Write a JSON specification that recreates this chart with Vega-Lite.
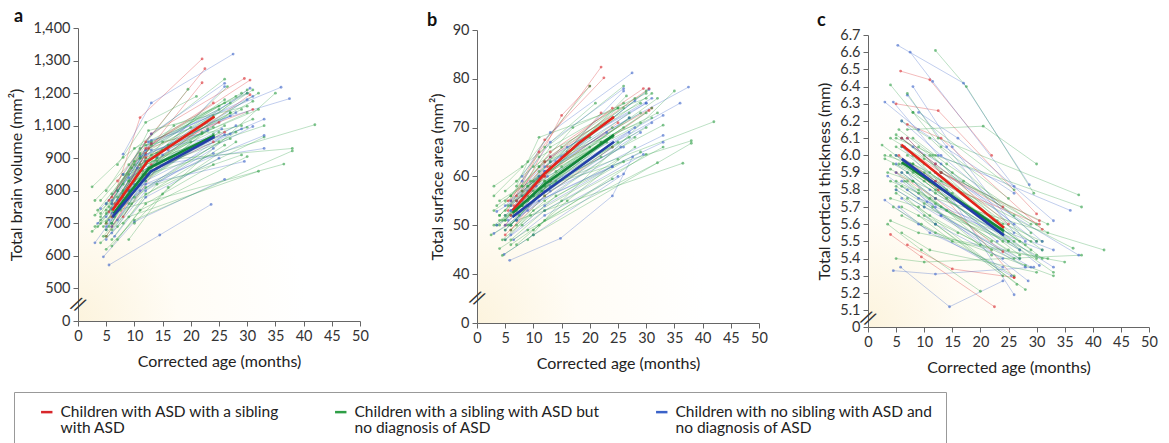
{
"$schema": "https://vega.github.io/schema/vega-lite/v6.json",
"background": "white",
"padding": {"left": 8, "top": 8, "right": 5, "bottom": 0},
"bounds": "flush",
"spacing": 117,
"config": {
  "view": {"stroke": null, "fill": {"gradient": "radial", "x1": 0, "y1": 1, "r1": 0, "x2": 0, "y2": 1, "r2": 0.8, "stops": [{"offset": 0, "color": "#fcf3dc"}, {"offset": 0.45, "color": "#fffcf5"}, {"offset": 1, "color": "#ffffff"}]}},
  "axis": {"labelFont": "Lato", "titleFont": "Lato", "labelFontSize": 14.5, "titleFontSize": 16, "titleFontWeight": "normal", "labelColor": "#333333", "titleColor": "#222222", "domainColor": "#666666", "tickColor": "#666666", "grid": false, "tickSize": 5, "labelPadding": 3, "labelOverlap": false, "labelFlush": false, "labelSeparation": 0},
  "title": {"font": "Lato", "fontSize": 18, "fontWeight": "bold", "anchor": "start", "frame": "group", "color": "#111111"}
},
"resolve": {"scale": {"color": "shared"}},
"datasets": {
"t": [
{"p":"a","id":"R1","g":"R","x":5.5,"y":735},{"p":"a","id":"R1","g":"R","x":11,"y":1125},{"p":"a","id":"R1","g":"R","x":22,"y":1305},
{"p":"a","id":"R2","g":"R","x":6,"y":780},{"p":"a","id":"R2","g":"R","x":12,"y":1000},{"p":"a","id":"R2","g":"R","x":22.5,"y":1275},
{"p":"a","id":"R3","g":"R","x":5,"y":700},{"p":"a","id":"R3","g":"R","x":12,"y":930},{"p":"a","id":"R3","g":"R","x":22,"y":1232},
{"p":"a","id":"R4","g":"R","x":7,"y":830},{"p":"a","id":"R4","g":"R","x":13,"y":1050},{"p":"a","id":"R4","g":"R","x":29.5,"y":1245},
{"p":"a","id":"R5","g":"R","x":6,"y":690},{"p":"a","id":"R5","g":"R","x":13,"y":880},{"p":"a","id":"R5","g":"R","x":30.5,"y":1195},
{"p":"a","id":"R6","g":"R","x":6.5,"y":760},{"p":"a","id":"R6","g":"R","x":12.5,"y":960},{"p":"a","id":"R6","g":"R","x":31,"y":1150},
{"p":"a","id":"R7","g":"R","x":5,"y":660},{"p":"a","id":"R7","g":"R","x":12,"y":850},{"p":"a","id":"R7","g":"R","x":24,"y":1000},
{"p":"a","id":"R8","g":"R","x":8,"y":720},{"p":"a","id":"R8","g":"R","x":14,"y":870},{"p":"a","id":"R8","g":"R","x":26,"y":1060},
{"p":"a","id":"B1","g":"B","x":5.5,"y":572},{"p":"a","id":"B1","g":"B","x":14.5,"y":664},{"p":"a","id":"B1","g":"B","x":23.6,"y":758},
{"p":"a","id":"B2","g":"B","x":8,"y":925},{"p":"a","id":"B2","g":"B","x":13,"y":1170},{"p":"a","id":"B2","g":"B","x":27.5,"y":1320},
{"p":"a","id":"B3","g":"B","x":3,"y":640},{"p":"a","id":"B3","g":"B","x":8,"y":760},{"p":"a","id":"B3","g":"B","x":26,"y":1045},
{"p":"a","id":"B4","g":"B","x":4.5,"y":597},{"p":"a","id":"B4","g":"B","x":10,"y":705},{"p":"a","id":"B4","g":"B","x":26,"y":835},
{"p":"a","id":"B5","g":"B","x":6,"y":700},{"p":"a","id":"B5","g":"B","x":12.5,"y":1000},{"p":"a","id":"B5","g":"B","x":36,"y":1218},
{"p":"a","id":"B6","g":"B","x":7,"y":800},{"p":"a","id":"B6","g":"B","x":13,"y":1010},{"p":"a","id":"B6","g":"B","x":37.5,"y":1183},
{"p":"a","id":"B7","g":"B","x":5,"y":650},{"p":"a","id":"B7","g":"B","x":12,"y":820},{"p":"a","id":"B7","g":"B","x":29.5,"y":890},
{"p":"a","id":"B8","g":"B","x":6,"y":730},{"p":"a","id":"B8","g":"B","x":12,"y":890},{"p":"a","id":"B8","g":"B","x":30.5,"y":1215},
{"p":"a","id":"B9","g":"B","x":5,"y":680},{"p":"a","id":"B9","g":"B","x":11,"y":860},{"p":"a","id":"B9","g":"B","x":33,"y":1120},
{"p":"a","id":"B10","g":"B","x":7,"y":740},{"p":"a","id":"B10","g":"B","x":14,"y":905},{"p":"a","id":"B10","g":"B","x":26,"y":1220},
{"p":"a","id":"B11","g":"B","x":4,"y":745},{"p":"a","id":"B11","g":"B","x":9,"y":840},{"p":"a","id":"B11","g":"B","x":25.5,"y":1080},
{"p":"a","id":"B12","g":"B","x":6,"y":690},{"p":"a","id":"B12","g":"B","x":12,"y":830},{"p":"a","id":"B12","g":"B","x":31,"y":1095},
{"p":"a","id":"B13","g":"B","x":8,"y":770},{"p":"a","id":"B13","g":"B","x":15,"y":920},{"p":"a","id":"B13","g":"B","x":28,"y":1140},
{"p":"a","id":"B14","g":"B","x":5.5,"y":710},{"p":"a","id":"B14","g":"B","x":11,"y":800},{"p":"a","id":"B14","g":"B","x":24,"y":930},
{"p":"a","id":"B15","g":"B","x":9,"y":800},{"p":"a","id":"B15","g":"B","x":16,"y":950},{"p":"a","id":"B15","g":"B","x":30,"y":1180},
{"p":"a","id":"B16","g":"B","x":6.5,"y":660},{"p":"a","id":"B16","g":"B","x":12,"y":780},{"p":"a","id":"B16","g":"B","x":25,"y":900},
{"p":"a","id":"B17","g":"B","x":5,"y":720},{"p":"a","id":"B17","g":"B","x":10.5,"y":870},{"p":"a","id":"B17","g":"B","x":33,"y":960},
{"p":"a","id":"B18","g":"B","x":7,"y":770},{"p":"a","id":"B18","g":"B","x":13,"y":950},{"p":"a","id":"B18","g":"B","x":27,"y":1050},
{"p":"a","id":"G1","g":"G","x":2.5,"y":812},{"p":"a","id":"G1","g":"G","x":8,"y":905},{"p":"a","id":"G1","g":"G","x":26,"y":1243},
{"p":"a","id":"G2","g":"G","x":3,"y":770},{"p":"a","id":"G2","g":"G","x":9,"y":880},{"p":"a","id":"G2","g":"G","x":19.5,"y":1212},
{"p":"a","id":"G3","g":"G","x":2.5,"y":675},{"p":"a","id":"G3","g":"G","x":7,"y":740},{"p":"a","id":"G3","g":"G","x":36.5,"y":882},
{"p":"a","id":"G4","g":"G","x":4,"y":640},{"p":"a","id":"G4","g":"G","x":9,"y":720},{"p":"a","id":"G4","g":"G","x":32,"y":860},
{"p":"a","id":"G5","g":"G","x":5,"y":620},{"p":"a","id":"G5","g":"G","x":10,"y":710},{"p":"a","id":"G5","g":"G","x":38,"y":945},
{"p":"a","id":"G6","g":"G","x":6,"y":700},{"p":"a","id":"G6","g":"G","x":12,"y":850},{"p":"a","id":"G6","g":"G","x":42,"y":1103},
{"p":"a","id":"G7","g":"G","x":5,"y":730},{"p":"a","id":"G7","g":"G","x":12,"y":890},{"p":"a","id":"G7","g":"G","x":38,"y":960},
{"p":"a","id":"G8","g":"G","x":3,"y":725},{"p":"a","id":"G8","g":"G","x":8,"y":800},{"p":"a","id":"G8","g":"G","x":30,"y":1210},
{"p":"a","id":"G9","g":"G","x":4,"y":700},{"p":"a","id":"G9","g":"G","x":9,"y":830},{"p":"a","id":"G9","g":"G","x":26.5,"y":1220},
{"p":"a","id":"G10","g":"G","x":6,"y":760},{"p":"a","id":"G10","g":"G","x":11,"y":960},{"p":"a","id":"G10","g":"G","x":29,"y":1200},
{"p":"a","id":"G11","g":"G","x":7,"y":800},{"p":"a","id":"G11","g":"G","x":12.5,"y":1070},{"p":"a","id":"G11","g":"G","x":30,"y":1160},
{"p":"a","id":"G12","g":"G","x":5,"y":660},{"p":"a","id":"G12","g":"G","x":10,"y":780},{"p":"a","id":"G12","g":"G","x":25,"y":1000},
{"p":"a","id":"G13","g":"G","x":8,"y":700},{"p":"a","id":"G13","g":"G","x":14,"y":820},{"p":"a","id":"G13","g":"G","x":29,"y":920},
{"p":"a","id":"G14","g":"G","x":4.5,"y":690},{"p":"a","id":"G14","g":"G","x":10,"y":810},{"p":"a","id":"G14","g":"G","x":27,"y":1140},
{"p":"a","id":"G15","g":"G","x":6,"y":740},{"p":"a","id":"G15","g":"G","x":13,"y":920},{"p":"a","id":"G15","g":"G","x":32,"y":1150},
{"p":"a","id":"G16","g":"G","x":7,"y":650},{"p":"a","id":"G16","g":"G","x":12,"y":760},{"p":"a","id":"G16","g":"G","x":24,"y":880},
{"p":"a","id":"G17","g":"G","x":9,"y":650},{"p":"a","id":"G17","g":"G","x":15,"y":790},{"p":"a","id":"G17","g":"G","x":35,"y":1200},
{"p":"a","id":"G18","g":"G","x":5,"y":760},{"p":"a","id":"G18","g":"G","x":11,"y":920},{"p":"a","id":"G18","g":"G","x":24,"y":1130},
{"p":"a","id":"G19","g":"G","x":3.5,"y":740},{"p":"a","id":"G19","g":"G","x":9.5,"y":870},{"p":"a","id":"G19","g":"G","x":20,"y":1000},
{"p":"a","id":"G20","g":"G","x":6.5,"y":720},{"p":"a","id":"G20","g":"G","x":13,"y":870},{"p":"a","id":"G20","g":"G","x":27,"y":1020},
{"p":"a","id":"G21","g":"G","x":4,"y":770},{"p":"a","id":"G21","g":"G","x":8,"y":850},{"p":"a","id":"G21","g":"G","x":31,"y":1120},
{"p":"a","id":"G22","g":"G","x":5.5,"y":690},{"p":"a","id":"G22","g":"G","x":11.5,"y":850},{"p":"a","id":"G22","g":"G","x":23,"y":1080},
{"p":"a","id":"G23","g":"G","x":8,"y":820},{"p":"a","id":"G23","g":"G","x":13,"y":1000},{"p":"a","id":"G23","g":"G","x":25,"y":1150},
{"p":"a","id":"G24","g":"G","x":6,"y":630},{"p":"a","id":"G24","g":"G","x":11,"y":740},{"p":"a","id":"G24","g":"G","x":30,"y":910},
{"p":"a","id":"G25","g":"G","x":7,"y":880},{"p":"a","id":"G25","g":"G","x":12,"y":1110},{"p":"a","id":"G25","g":"G","x":21,"y":1190},
{"p":"a","id":"G26","g":"G","x":10,"y":700},{"p":"a","id":"G26","g":"G","x":16,"y":810},{"p":"a","id":"G26","g":"G","x":28,"y":1000},
{"p":"a","id":"G27","g":"G","x":5,"y":800},{"p":"a","id":"G27","g":"G","x":10,"y":960},{"p":"a","id":"G27","g":"G","x":26,"y":1170},
{"p":"a","id":"G28","g":"G","x":3,"y":690},{"p":"a","id":"G28","g":"G","x":8,"y":790},{"p":"a","id":"G28","g":"G","x":24,"y":1050},
{"p":"a","id":"G29","g":"G","x":7.5,"y":740},{"p":"a","id":"G29","g":"G","x":14,"y":890},{"p":"a","id":"G29","g":"G","x":33,"y":1100},
{"p":"a","id":"G30","g":"G","x":6,"y":680},{"p":"a","id":"G30","g":"G","x":12,"y":810},{"p":"a","id":"G30","g":"G","x":28,"y":1060},
{"p":"a","id":"X1","g":"G","x":4,"y":720},{"p":"a","id":"X1","g":"G","x":9,"y":850},{"p":"a","id":"X1","g":"G","x":24,"y":1090},
{"p":"a","id":"X2","g":"G","x":5,"y":700},{"p":"a","id":"X2","g":"G","x":11,"y":900},{"p":"a","id":"X2","g":"G","x":27,"y":1170},
{"p":"a","id":"X3","g":"B","x":6,"y":760},{"p":"a","id":"X3","g":"B","x":12,"y":950},{"p":"a","id":"X3","g":"B","x":30,"y":1200},
{"p":"a","id":"X4","g":"G","x":7,"y":780},{"p":"a","id":"X4","g":"G","x":13,"y":980},{"p":"a","id":"X4","g":"G","x":25,"y":1160},
{"p":"a","id":"X5","g":"G","x":3.5,"y":690},{"p":"a","id":"X5","g":"G","x":8,"y":780},{"p":"a","id":"X5","g":"G","x":22,"y":1050},
{"p":"a","id":"X6","g":"B","x":5,"y":690},{"p":"a","id":"X6","g":"B","x":10,"y":820},{"p":"a","id":"X6","g":"B","x":28,"y":1100},
{"p":"a","id":"X7","g":"G","x":6,"y":720},{"p":"a","id":"X7","g":"G","x":12,"y":900},{"p":"a","id":"X7","g":"G","x":31,"y":1175},
{"p":"a","id":"X8","g":"G","x":8,"y":760},{"p":"a","id":"X8","g":"G","x":14,"y":930},{"p":"a","id":"X8","g":"G","x":32,"y":1200},
{"p":"a","id":"X9","g":"R","x":6,"y":720},{"p":"a","id":"X9","g":"R","x":12,"y":905},{"p":"a","id":"X9","g":"R","x":25,"y":1110},
{"p":"a","id":"X10","g":"G","x":4.5,"y":660},{"p":"a","id":"X10","g":"G","x":9.5,"y":760},{"p":"a","id":"X10","g":"G","x":26,"y":980},
{"p":"a","id":"X11","g":"B","x":7,"y":710},{"p":"a","id":"X11","g":"B","x":13,"y":860},{"p":"a","id":"X11","g":"B","x":29,"y":1080},
{"p":"a","id":"X12","g":"G","x":5,"y":740},{"p":"a","id":"X12","g":"G","x":10,"y":880},{"p":"a","id":"X12","g":"G","x":30,"y":1140},
{"p":"a","id":"X13","g":"G","x":9,"y":830},{"p":"a","id":"X13","g":"G","x":15,"y":1000},{"p":"a","id":"X13","g":"G","x":26,"y":1180},
{"p":"a","id":"X14","g":"B","x":6,"y":670},{"p":"a","id":"X14","g":"B","x":12,"y":800},{"p":"a","id":"X14","g":"B","x":24,"y":960},
{"p":"a","id":"X15","g":"G","x":5.5,"y":750},{"p":"a","id":"X15","g":"G","x":11,"y":930},{"p":"a","id":"X15","g":"G","x":28,"y":1190},
{"p":"a","id":"X16","g":"G","x":7,"y":690},{"p":"a","id":"X16","g":"G","x":12,"y":830},{"p":"a","id":"X16","g":"G","x":22,"y":990},
{"p":"a","id":"X17","g":"G","x":4,"y":710},{"p":"a","id":"X17","g":"G","x":9,"y":800},{"p":"a","id":"X17","g":"G","x":25,"y":1060},
{"p":"a","id":"X18","g":"B","x":6,"y":770},{"p":"a","id":"X18","g":"B","x":13,"y":990},{"p":"a","id":"X18","g":"B","x":31,"y":1190},
{"p":"a","id":"X19","g":"G","x":10,"y":800},{"p":"a","id":"X19","g":"G","x":15,"y":950},{"p":"a","id":"X19","g":"G","x":27,"y":1140},
{"p":"a","id":"X20","g":"G","x":5,"y":705},{"p":"a","id":"X20","g":"G","x":11,"y":880},{"p":"a","id":"X20","g":"G","x":20,"y":1090},
{"p":"a","id":"X21","g":"R","x":7,"y":760},{"p":"a","id":"X21","g":"R","x":13,"y":990},{"p":"a","id":"X21","g":"R","x":24,"y":1170},
{"p":"a","id":"X22","g":"G","x":6,"y":650},{"p":"a","id":"X22","g":"G","x":12,"y":790},{"p":"a","id":"X22","g":"G","x":33,"y":1030},
{"p":"a","id":"X23","g":"B","x":8,"y":850},{"p":"a","id":"X23","g":"B","x":13,"y":1050},{"p":"a","id":"X23","g":"B","x":26,"y":1230},
{"p":"a","id":"X24","g":"G","x":4,"y":730},{"p":"a","id":"X24","g":"G","x":10,"y":890},{"p":"a","id":"X24","g":"G","x":29,"y":1150},
{"p":"a","id":"X25","g":"G","x":6,"y":790},{"p":"a","id":"X25","g":"G","x":12,"y":980},{"p":"a","id":"X25","g":"G","x":29,"y":1100},
{"p":"a","id":"X26","g":"B","x":5,"y":760},{"p":"a","id":"X26","g":"B","x":11,"y":910},{"p":"a","id":"X26","g":"B","x":23,"y":1070},
{"p":"a","id":"X27","g":"G","x":7,"y":740},{"p":"a","id":"X27","g":"G","x":12,"y":880},{"p":"a","id":"X27","g":"G","x":26,"y":1100},
{"p":"a","id":"X28","g":"G","x":9,"y":760},{"p":"a","id":"X28","g":"G","x":14,"y":900},{"p":"a","id":"X28","g":"G","x":30,"y":1090},
{"p":"a","id":"X29","g":"B","x":3.5,"y":700},{"p":"a","id":"X29","g":"B","x":9,"y":800},{"p":"a","id":"X29","g":"B","x":33,"y":1040},
{"p":"a","id":"X30","g":"G","x":6,"y":700},{"p":"a","id":"X30","g":"G","x":11.5,"y":860},{"p":"a","id":"X30","g":"G","x":22,"y":1060},
{"p":"a","id":"X31","g":"G","x":8,"y":790},{"p":"a","id":"X31","g":"G","x":16,"y":980},{"p":"a","id":"X31","g":"G","x":31,"y":1210},
{"p":"a","id":"X32","g":"B","x":6,"y":745},{"p":"a","id":"X32","g":"B","x":12,"y":920},{"p":"a","id":"X32","g":"B","x":27,"y":1130},
{"p":"a","id":"X33","g":"G","x":5,"y":680},{"p":"a","id":"X33","g":"G","x":10,"y":830},{"p":"a","id":"X33","g":"G","x":24,"y":1040},
{"p":"a","id":"X34","g":"G","x":11,"y":900},{"p":"a","id":"X34","g":"G","x":17,"y":1100},{"p":"a","id":"X34","g":"G","x":30,"y":1200},
{"p":"a","id":"X35","g":"R","x":5.5,"y":770},{"p":"a","id":"X35","g":"R","x":12,"y":960},{"p":"a","id":"X35","g":"R","x":30.5,"y":1240},

{"p":"b","id":"R1","g":"R","x":5.5,"y":53},{"p":"b","id":"R1","g":"R","x":11,"y":65},{"p":"b","id":"R1","g":"R","x":22,"y":82.4},
{"p":"b","id":"R2","g":"R","x":6,"y":55},{"p":"b","id":"R2","g":"R","x":12,"y":67.5},{"p":"b","id":"R2","g":"R","x":22.5,"y":80.2},
{"p":"b","id":"R3","g":"R","x":5,"y":50},{"p":"b","id":"R3","g":"R","x":12,"y":60},{"p":"b","id":"R3","g":"R","x":22,"y":73},
{"p":"b","id":"R4","g":"R","x":7,"y":56},{"p":"b","id":"R4","g":"R","x":13,"y":65},{"p":"b","id":"R4","g":"R","x":29.5,"y":78},
{"p":"b","id":"R5","g":"R","x":6,"y":49},{"p":"b","id":"R5","g":"R","x":13,"y":59},{"p":"b","id":"R5","g":"R","x":30.5,"y":73.5},
{"p":"b","id":"R6","g":"R","x":6.5,"y":54},{"p":"b","id":"R6","g":"R","x":12.5,"y":62},{"p":"b","id":"R6","g":"R","x":31,"y":74},
{"p":"b","id":"R7","g":"R","x":5,"y":48},{"p":"b","id":"R7","g":"R","x":12,"y":56},{"p":"b","id":"R7","g":"R","x":24,"y":66},
{"p":"b","id":"R8","g":"R","x":8,"y":57},{"p":"b","id":"R8","g":"R","x":15,"y":72.5},{"p":"b","id":"R8","g":"R","x":20,"y":78.5},
{"p":"b","id":"B1","g":"B","x":5.8,"y":42.8},{"p":"b","id":"B1","g":"B","x":14.8,"y":47.3},{"p":"b","id":"B1","g":"B","x":24,"y":56},{"p":"b","id":"B1","g":"B","x":27.6,"y":64},
{"p":"b","id":"B2","g":"B","x":8,"y":60},{"p":"b","id":"B2","g":"B","x":13,"y":69},{"p":"b","id":"B2","g":"B","x":27.5,"y":81.2},
{"p":"b","id":"B3","g":"B","x":3.5,"y":52.8},{"p":"b","id":"B3","g":"B","x":8,"y":56},{"p":"b","id":"B3","g":"B","x":26,"y":66},
{"p":"b","id":"B4","g":"B","x":4.8,"y":44},{"p":"b","id":"B4","g":"B","x":10,"y":48},{"p":"b","id":"B4","g":"B","x":26,"y":60.5},
{"p":"b","id":"B5","g":"B","x":6,"y":50},{"p":"b","id":"B5","g":"B","x":12.5,"y":60},{"p":"b","id":"B5","g":"B","x":36,"y":75},
{"p":"b","id":"B6","g":"B","x":7,"y":55},{"p":"b","id":"B6","g":"B","x":13,"y":63},{"p":"b","id":"B6","g":"B","x":37.5,"y":78.3},
{"p":"b","id":"B7","g":"B","x":5,"y":47},{"p":"b","id":"B7","g":"B","x":12,"y":53},{"p":"b","id":"B7","g":"B","x":29.5,"y":64.5},
{"p":"b","id":"B8","g":"B","x":6,"y":53},{"p":"b","id":"B8","g":"B","x":12,"y":61},{"p":"b","id":"B8","g":"B","x":30.5,"y":77.8},
{"p":"b","id":"B9","g":"B","x":5,"y":49},{"p":"b","id":"B9","g":"B","x":11,"y":56},{"p":"b","id":"B9","g":"B","x":33,"y":68.4},
{"p":"b","id":"B10","g":"B","x":7,"y":54},{"p":"b","id":"B10","g":"B","x":14,"y":63},{"p":"b","id":"B10","g":"B","x":26,"y":77.5},
{"p":"b","id":"B11","g":"B","x":3,"y":48.3},{"p":"b","id":"B11","g":"B","x":9,"y":53},{"p":"b","id":"B11","g":"B","x":25.5,"y":66},
{"p":"b","id":"B12","g":"B","x":6,"y":50},{"p":"b","id":"B12","g":"B","x":12,"y":57},{"p":"b","id":"B12","g":"B","x":31,"y":71},
{"p":"b","id":"B13","g":"B","x":8,"y":55},{"p":"b","id":"B13","g":"B","x":15,"y":64},{"p":"b","id":"B13","g":"B","x":28,"y":75.5},
{"p":"b","id":"B14","g":"B","x":5.5,"y":51},{"p":"b","id":"B14","g":"B","x":11,"y":55},{"p":"b","id":"B14","g":"B","x":24,"y":62},
{"p":"b","id":"B15","g":"B","x":9,"y":57},{"p":"b","id":"B15","g":"B","x":16,"y":66},{"p":"b","id":"B15","g":"B","x":30,"y":75},
{"p":"b","id":"B16","g":"B","x":6.5,"y":47},{"p":"b","id":"B16","g":"B","x":12,"y":52},{"p":"b","id":"B16","g":"B","x":25,"y":60},
{"p":"b","id":"B17","g":"B","x":5,"y":52},{"p":"b","id":"B17","g":"B","x":10.5,"y":58},{"p":"b","id":"B17","g":"B","x":33,"y":72.5},
{"p":"b","id":"B18","g":"B","x":7,"y":51},{"p":"b","id":"B18","g":"B","x":13,"y":58},{"p":"b","id":"B18","g":"B","x":27,"y":69},
{"p":"b","id":"G1","g":"G","x":3,"y":58},{"p":"b","id":"G1","g":"G","x":8,"y":62},{"p":"b","id":"G1","g":"G","x":26,"y":78.5},
{"p":"b","id":"G2","g":"G","x":3,"y":56},{"p":"b","id":"G2","g":"G","x":9,"y":63},{"p":"b","id":"G2","g":"G","x":20,"y":78.5},
{"p":"b","id":"G3","g":"G","x":2.5,"y":48},{"p":"b","id":"G3","g":"G","x":7,"y":51},{"p":"b","id":"G3","g":"G","x":36.5,"y":62.7},
{"p":"b","id":"G4","g":"G","x":4,"y":45.2},{"p":"b","id":"G4","g":"G","x":9,"y":49},{"p":"b","id":"G4","g":"G","x":32,"y":62.8},
{"p":"b","id":"G5","g":"G","x":4.5,"y":43.8},{"p":"b","id":"G5","g":"G","x":10,"y":48},{"p":"b","id":"G5","g":"G","x":38,"y":66.8},
{"p":"b","id":"G6","g":"G","x":6,"y":50},{"p":"b","id":"G6","g":"G","x":12,"y":58},{"p":"b","id":"G6","g":"G","x":42,"y":71.2},
{"p":"b","id":"G7","g":"G","x":5,"y":52},{"p":"b","id":"G7","g":"G","x":12,"y":58},{"p":"b","id":"G7","g":"G","x":38,"y":67.3},
{"p":"b","id":"G8","g":"G","x":3,"y":53},{"p":"b","id":"G8","g":"G","x":8,"y":57},{"p":"b","id":"G8","g":"G","x":30,"y":77.5},
{"p":"b","id":"G9","g":"G","x":4,"y":50},{"p":"b","id":"G9","g":"G","x":9,"y":56},{"p":"b","id":"G9","g":"G","x":26.5,"y":76.5},
{"p":"b","id":"G10","g":"G","x":6,"y":56},{"p":"b","id":"G10","g":"G","x":11,"y":64},{"p":"b","id":"G10","g":"G","x":29,"y":75},
{"p":"b","id":"G11","g":"G","x":7,"y":58},{"p":"b","id":"G11","g":"G","x":11,"y":68},{"p":"b","id":"G11","g":"G","x":30,"y":76},
{"p":"b","id":"G12","g":"G","x":5,"y":47},{"p":"b","id":"G12","g":"G","x":10,"y":53},{"p":"b","id":"G12","g":"G","x":25,"y":63.5},
{"p":"b","id":"G13","g":"G","x":8,"y":50},{"p":"b","id":"G13","g":"G","x":14,"y":56},{"p":"b","id":"G13","g":"G","x":29,"y":65},
{"p":"b","id":"G14","g":"G","x":4.5,"y":51},{"p":"b","id":"G14","g":"G","x":10,"y":57},{"p":"b","id":"G14","g":"G","x":27,"y":72},
{"p":"b","id":"G15","g":"G","x":6,"y":54},{"p":"b","id":"G15","g":"G","x":13,"y":62},{"p":"b","id":"G15","g":"G","x":32,"y":73},
{"p":"b","id":"G16","g":"G","x":7,"y":46},{"p":"b","id":"G16","g":"G","x":12,"y":51},{"p":"b","id":"G16","g":"G","x":24,"y":59.5},
{"p":"b","id":"G17","g":"G","x":9,"y":47},{"p":"b","id":"G17","g":"G","x":15,"y":55},{"p":"b","id":"G17","g":"G","x":35,"y":77.5},
{"p":"b","id":"G18","g":"G","x":5,"y":55},{"p":"b","id":"G18","g":"G","x":11,"y":62},{"p":"b","id":"G18","g":"G","x":24,"y":72},
{"p":"b","id":"G19","g":"G","x":3.5,"y":54},{"p":"b","id":"G19","g":"G","x":9.5,"y":59},{"p":"b","id":"G19","g":"G","x":20,"y":66},
{"p":"b","id":"G20","g":"G","x":6.5,"y":52},{"p":"b","id":"G20","g":"G","x":13,"y":59},{"p":"b","id":"G20","g":"G","x":27,"y":68},
{"p":"b","id":"G21","g":"G","x":4,"y":55},{"p":"b","id":"G21","g":"G","x":8,"y":58},{"p":"b","id":"G21","g":"G","x":31,"y":72},
{"p":"b","id":"G22","g":"G","x":5.5,"y":50},{"p":"b","id":"G22","g":"G","x":11.5,"y":57},{"p":"b","id":"G22","g":"G","x":23,"y":67},
{"p":"b","id":"G23","g":"G","x":8,"y":58},{"p":"b","id":"G23","g":"G","x":13,"y":66},{"p":"b","id":"G23","g":"G","x":25,"y":74},
{"p":"b","id":"G24","g":"G","x":6,"y":46},{"p":"b","id":"G24","g":"G","x":11,"y":50},{"p":"b","id":"G24","g":"G","x":30,"y":64.5},
{"p":"b","id":"G25","g":"G","x":7,"y":59},{"p":"b","id":"G25","g":"G","x":12,"y":66},{"p":"b","id":"G25","g":"G","x":21,"y":75},
{"p":"b","id":"G26","g":"G","x":10,"y":49},{"p":"b","id":"G26","g":"G","x":16,"y":55},{"p":"b","id":"G26","g":"G","x":28,"y":66},
{"p":"b","id":"G27","g":"G","x":5,"y":57},{"p":"b","id":"G27","g":"G","x":10,"y":62},{"p":"b","id":"G27","g":"G","x":26,"y":74},
{"p":"b","id":"G28","g":"G","x":3,"y":50},{"p":"b","id":"G28","g":"G","x":8,"y":54},{"p":"b","id":"G28","g":"G","x":24,"y":68},
{"p":"b","id":"G29","g":"G","x":7.5,"y":52},{"p":"b","id":"G29","g":"G","x":14,"y":59},{"p":"b","id":"G29","g":"G","x":33,"y":70.5},
{"p":"b","id":"G30","g":"G","x":6,"y":49},{"p":"b","id":"G30","g":"G","x":12,"y":55},{"p":"b","id":"G30","g":"G","x":28,"y":68},
{"p":"b","id":"X1","g":"G","x":4,"y":52},{"p":"b","id":"X1","g":"G","x":9,"y":58},{"p":"b","id":"X1","g":"G","x":24,"y":70},
{"p":"b","id":"X2","g":"G","x":5,"y":51},{"p":"b","id":"X2","g":"G","x":11,"y":60},{"p":"b","id":"X2","g":"G","x":27,"y":73},
{"p":"b","id":"X3","g":"B","x":6,"y":54},{"p":"b","id":"X3","g":"B","x":12,"y":62},{"p":"b","id":"X3","g":"B","x":30,"y":75},
{"p":"b","id":"X4","g":"G","x":7,"y":55},{"p":"b","id":"X4","g":"G","x":13,"y":63},{"p":"b","id":"X4","g":"G","x":25,"y":74},
{"p":"b","id":"X5","g":"G","x":3.5,"y":50},{"p":"b","id":"X5","g":"G","x":8,"y":54},{"p":"b","id":"X5","g":"G","x":22,"y":67},
{"p":"b","id":"X6","g":"B","x":5,"y":50},{"p":"b","id":"X6","g":"B","x":10,"y":56},{"p":"b","id":"X6","g":"B","x":28,"y":70},
{"p":"b","id":"X7","g":"G","x":6,"y":52},{"p":"b","id":"X7","g":"G","x":12,"y":59},{"p":"b","id":"X7","g":"G","x":31,"y":74},
{"p":"b","id":"X8","g":"G","x":8,"y":54},{"p":"b","id":"X8","g":"G","x":14,"y":61},{"p":"b","id":"X8","g":"G","x":32,"y":76},
{"p":"b","id":"X9","g":"R","x":6,"y":52},{"p":"b","id":"X9","g":"R","x":12,"y":60},{"p":"b","id":"X9","g":"R","x":25,"y":71},
{"p":"b","id":"X10","g":"G","x":4.5,"y":47},{"p":"b","id":"X10","g":"G","x":9.5,"y":52},{"p":"b","id":"X10","g":"G","x":26,"y":63},
{"p":"b","id":"X11","g":"B","x":7,"y":51},{"p":"b","id":"X11","g":"B","x":13,"y":57},{"p":"b","id":"X11","g":"B","x":29,"y":69},
{"p":"b","id":"X12","g":"G","x":5,"y":53},{"p":"b","id":"X12","g":"G","x":10,"y":58},{"p":"b","id":"X12","g":"G","x":30,"y":73},
{"p":"b","id":"X13","g":"G","x":9,"y":58},{"p":"b","id":"X13","g":"G","x":15,"y":66},{"p":"b","id":"X13","g":"G","x":26,"y":75},
{"p":"b","id":"X14","g":"B","x":6,"y":48},{"p":"b","id":"X14","g":"B","x":12,"y":54},{"p":"b","id":"X14","g":"B","x":24,"y":62},
{"p":"b","id":"X15","g":"G","x":5.5,"y":54},{"p":"b","id":"X15","g":"G","x":11,"y":61},{"p":"b","id":"X15","g":"G","x":28,"y":76},
{"p":"b","id":"X16","g":"G","x":7,"y":50},{"p":"b","id":"X16","g":"G","x":12,"y":56},{"p":"b","id":"X16","g":"G","x":22,"y":64},
{"p":"b","id":"X17","g":"G","x":4,"y":51},{"p":"b","id":"X17","g":"G","x":9,"y":55},{"p":"b","id":"X17","g":"G","x":25,"y":67},
{"p":"b","id":"X18","g":"B","x":6,"y":55},{"p":"b","id":"X18","g":"B","x":13,"y":64},{"p":"b","id":"X18","g":"B","x":31,"y":76},
{"p":"b","id":"X19","g":"G","x":10,"y":56},{"p":"b","id":"X19","g":"G","x":15,"y":62},{"p":"b","id":"X19","g":"G","x":27,"y":72},
{"p":"b","id":"X20","g":"G","x":5,"y":51},{"p":"b","id":"X20","g":"G","x":11,"y":59},{"p":"b","id":"X20","g":"G","x":20,"y":68},
{"p":"b","id":"X21","g":"R","x":7,"y":55},{"p":"b","id":"X21","g":"R","x":13,"y":64},{"p":"b","id":"X21","g":"R","x":24,"y":74},
{"p":"b","id":"X22","g":"G","x":6,"y":47},{"p":"b","id":"X22","g":"G","x":12,"y":53},{"p":"b","id":"X22","g":"G","x":33,"y":66},
{"p":"b","id":"X23","g":"B","x":8,"y":59},{"p":"b","id":"X23","g":"B","x":13,"y":67},{"p":"b","id":"X23","g":"B","x":26,"y":78},
{"p":"b","id":"X24","g":"G","x":4,"y":52},{"p":"b","id":"X24","g":"G","x":10,"y":59},{"p":"b","id":"X24","g":"G","x":29,"y":73},
{"p":"b","id":"X25","g":"G","x":6,"y":56},{"p":"b","id":"X25","g":"G","x":12,"y":63},{"p":"b","id":"X25","g":"G","x":29,"y":71},
{"p":"b","id":"X26","g":"B","x":5,"y":54},{"p":"b","id":"X26","g":"B","x":11,"y":60},{"p":"b","id":"X26","g":"B","x":23,"y":69},
{"p":"b","id":"X27","g":"G","x":7,"y":53},{"p":"b","id":"X27","g":"G","x":12,"y":59},{"p":"b","id":"X27","g":"G","x":26,"y":70},
{"p":"b","id":"X28","g":"G","x":9,"y":54},{"p":"b","id":"X28","g":"G","x":14,"y":60},{"p":"b","id":"X28","g":"G","x":30,"y":70},
{"p":"b","id":"X29","g":"B","x":3.5,"y":50},{"p":"b","id":"X29","g":"B","x":9,"y":54},{"p":"b","id":"X29","g":"B","x":33,"y":67},
{"p":"b","id":"X30","g":"G","x":6,"y":50},{"p":"b","id":"X30","g":"G","x":11.5,"y":57},{"p":"b","id":"X30","g":"G","x":22,"y":67},
{"p":"b","id":"X31","g":"G","x":8,"y":56},{"p":"b","id":"X31","g":"G","x":16,"y":65},{"p":"b","id":"X31","g":"G","x":31,"y":77},
{"p":"b","id":"X32","g":"B","x":6,"y":53},{"p":"b","id":"X32","g":"B","x":12,"y":61},{"p":"b","id":"X32","g":"B","x":27,"y":72},
{"p":"b","id":"X33","g":"G","x":5,"y":49},{"p":"b","id":"X33","g":"G","x":10,"y":55},{"p":"b","id":"X33","g":"G","x":24,"y":66},
{"p":"b","id":"X34","g":"G","x":11,"y":62},{"p":"b","id":"X34","g":"G","x":17,"y":70},{"p":"b","id":"X34","g":"G","x":30,"y":77},
{"p":"b","id":"X35","g":"R","x":5.5,"y":55},{"p":"b","id":"X35","g":"R","x":12,"y":63},{"p":"b","id":"X35","g":"R","x":30.5,"y":78},

{"p":"c","id":"R1","g":"R","x":5.8,"y":6.49},{"p":"c","id":"R1","g":"R","x":11,"y":6.44},{"p":"c","id":"R1","g":"R","x":22,"y":6.0},
{"p":"c","id":"R2","g":"R","x":4,"y":5.54},{"p":"c","id":"R2","g":"R","x":9.5,"y":5.41},{"p":"c","id":"R2","g":"R","x":22.5,"y":5.12},
{"p":"c","id":"R3","g":"R","x":5,"y":6.3},{"p":"c","id":"R3","g":"R","x":12.5,"y":6.26},{"p":"c","id":"R3","g":"R","x":30,"y":5.66},
{"p":"c","id":"R4","g":"R","x":7,"y":6.18},{"p":"c","id":"R4","g":"R","x":13,"y":6.1},{"p":"c","id":"R4","g":"R","x":31,"y":5.57},
{"p":"c","id":"R5","g":"R","x":6,"y":6.06},{"p":"c","id":"R5","g":"R","x":13,"y":5.9},{"p":"c","id":"R5","g":"R","x":30.5,"y":5.62},
{"p":"c","id":"R6","g":"R","x":6.5,"y":5.95},{"p":"c","id":"R6","g":"R","x":12.5,"y":5.8},{"p":"c","id":"R6","g":"R","x":26,"y":5.29},
{"p":"c","id":"R7","g":"R","x":5,"y":5.9},{"p":"c","id":"R7","g":"R","x":12,"y":5.75},{"p":"c","id":"R7","g":"R","x":24,"y":5.44},
{"p":"c","id":"R8","g":"R","x":7,"y":5.48},{"p":"c","id":"R8","g":"R","x":15,"y":5.34},{"p":"c","id":"R8","g":"R","x":26,"y":5.29},
{"p":"c","id":"B1","g":"B","x":5.8,"y":5.35},{"p":"c","id":"B1","g":"B","x":14.5,"y":5.12},{"p":"c","id":"B1","g":"B","x":24,"y":5.27},
{"p":"c","id":"B2","g":"B","x":5.3,"y":6.64},{"p":"c","id":"B2","g":"B","x":17,"y":6.42},{"p":"c","id":"B2","g":"B","x":28.7,"y":5.83},
{"p":"c","id":"B3","g":"B","x":7.5,"y":6.6},{"p":"c","id":"B3","g":"B","x":11.5,"y":6.43},{"p":"c","id":"B3","g":"B","x":26,"y":5.82},
{"p":"c","id":"B4","g":"B","x":3,"y":6.31},{"p":"c","id":"B4","g":"B","x":9,"y":6.15},{"p":"c","id":"B4","g":"B","x":26,"y":5.78},
{"p":"c","id":"B5","g":"B","x":4.5,"y":6.31},{"p":"c","id":"B5","g":"B","x":12.5,"y":6.0},{"p":"c","id":"B5","g":"B","x":36,"y":5.68},
{"p":"c","id":"B6","g":"B","x":7,"y":6.1},{"p":"c","id":"B6","g":"B","x":13,"y":5.9},{"p":"c","id":"B6","g":"B","x":37.5,"y":5.42},
{"p":"c","id":"B7","g":"B","x":4.5,"y":5.33},{"p":"c","id":"B7","g":"B","x":12,"y":5.31},{"p":"c","id":"B7","g":"B","x":29.5,"y":5.35},
{"p":"c","id":"B8","g":"B","x":6,"y":6.05},{"p":"c","id":"B8","g":"B","x":12,"y":5.85},{"p":"c","id":"B8","g":"B","x":30.5,"y":5.36},
{"p":"c","id":"B9","g":"B","x":5,"y":5.95},{"p":"c","id":"B9","g":"B","x":11,"y":5.8},{"p":"c","id":"B9","g":"B","x":33,"y":5.35},
{"p":"c","id":"B10","g":"B","x":7,"y":6.35},{"p":"c","id":"B10","g":"B","x":14,"y":6.05},{"p":"c","id":"B10","g":"B","x":26,"y":5.55},
{"p":"c","id":"B11","g":"B","x":3,"y":5.74},{"p":"c","id":"B11","g":"B","x":9,"y":5.6},{"p":"c","id":"B11","g":"B","x":25.5,"y":5.3},
{"p":"c","id":"B12","g":"B","x":6,"y":5.85},{"p":"c","id":"B12","g":"B","x":12,"y":5.7},{"p":"c","id":"B12","g":"B","x":31,"y":5.45},
{"p":"c","id":"B13","g":"B","x":8,"y":6.4},{"p":"c","id":"B13","g":"B","x":15,"y":6.05},{"p":"c","id":"B13","g":"B","x":28,"y":5.5},
{"p":"c","id":"B14","g":"B","x":5.5,"y":5.7},{"p":"c","id":"B14","g":"B","x":11,"y":5.55},{"p":"c","id":"B14","g":"B","x":24,"y":5.35},
{"p":"c","id":"B15","g":"B","x":9,"y":6.25},{"p":"c","id":"B15","g":"B","x":16,"y":6.1},{"p":"c","id":"B15","g":"B","x":33,"y":5.62},
{"p":"c","id":"B16","g":"B","x":6.5,"y":6.05},{"p":"c","id":"B16","g":"B","x":12,"y":5.9},{"p":"c","id":"B16","g":"B","x":26,"y":5.19},
{"p":"c","id":"B17","g":"B","x":5,"y":5.9},{"p":"c","id":"B17","g":"B","x":10.5,"y":5.73},{"p":"c","id":"B17","g":"B","x":28.5,"y":5.27},
{"p":"c","id":"B18","g":"B","x":7,"y":5.9},{"p":"c","id":"B18","g":"B","x":13,"y":5.65},{"p":"c","id":"B18","g":"B","x":27,"y":5.4},
{"p":"c","id":"G1","g":"G","x":4,"y":6.41},{"p":"c","id":"G1","g":"G","x":8,"y":6.25},{"p":"c","id":"G1","g":"G","x":26,"y":5.8},
{"p":"c","id":"G2","g":"G","x":12,"y":6.61},{"p":"c","id":"G2","g":"G","x":17.5,"y":6.4},{"p":"c","id":"G2","g":"G","x":29.5,"y":5.78},
{"p":"c","id":"G3","g":"G","x":2.5,"y":6.06},{"p":"c","id":"G3","g":"G","x":7,"y":5.95},{"p":"c","id":"G3","g":"G","x":36.5,"y":5.46},
{"p":"c","id":"G4","g":"G","x":4,"y":5.62},{"p":"c","id":"G4","g":"G","x":9,"y":5.55},{"p":"c","id":"G4","g":"G","x":32,"y":5.4},
{"p":"c","id":"G5","g":"G","x":5,"y":5.4},{"p":"c","id":"G5","g":"G","x":10,"y":5.38},{"p":"c","id":"G5","g":"G","x":38,"y":5.42},
{"p":"c","id":"G6","g":"G","x":6,"y":5.9},{"p":"c","id":"G6","g":"G","x":12,"y":5.75},{"p":"c","id":"G6","g":"G","x":42,"y":5.45},
{"p":"c","id":"G7","g":"G","x":5,"y":6.1},{"p":"c","id":"G7","g":"G","x":12,"y":6.0},{"p":"c","id":"G7","g":"G","x":38,"y":5.7},
{"p":"c","id":"G8","g":"G","x":3,"y":6.0},{"p":"c","id":"G8","g":"G","x":8,"y":5.95},{"p":"c","id":"G8","g":"G","x":30,"y":5.4},
{"p":"c","id":"G9","g":"G","x":4,"y":5.75},{"p":"c","id":"G9","g":"G","x":9,"y":5.7},{"p":"c","id":"G9","g":"G","x":26.5,"y":5.25},
{"p":"c","id":"G10","g":"G","x":6,"y":6.2},{"p":"c","id":"G10","g":"G","x":11,"y":6.1},{"p":"c","id":"G10","g":"G","x":29,"y":5.55},
{"p":"c","id":"G11","g":"G","x":7,"y":6.36},{"p":"c","id":"G11","g":"G","x":12.5,"y":6.1},{"p":"c","id":"G11","g":"G","x":37.5,"y":5.77},
{"p":"c","id":"G12","g":"G","x":5,"y":5.8},{"p":"c","id":"G12","g":"G","x":10,"y":5.7},{"p":"c","id":"G12","g":"G","x":25,"y":5.5},
{"p":"c","id":"G13","g":"G","x":8,"y":6.0},{"p":"c","id":"G13","g":"G","x":14,"y":5.8},{"p":"c","id":"G13","g":"G","x":29,"y":5.45},
{"p":"c","id":"G14","g":"G","x":4.5,"y":5.95},{"p":"c","id":"G14","g":"G","x":10,"y":5.85},{"p":"c","id":"G14","g":"G","x":27,"y":5.42},
{"p":"c","id":"G15","g":"G","x":6,"y":6.1},{"p":"c","id":"G15","g":"G","x":13,"y":5.9},{"p":"c","id":"G15","g":"G","x":32,"y":5.6},
{"p":"c","id":"G16","g":"G","x":7,"y":5.75},{"p":"c","id":"G16","g":"G","x":12,"y":5.6},{"p":"c","id":"G16","g":"G","x":24,"y":5.3},
{"p":"c","id":"G17","g":"G","x":9,"y":5.65},{"p":"c","id":"G17","g":"G","x":15,"y":5.5},{"p":"c","id":"G17","g":"G","x":35,"y":5.38},
{"p":"c","id":"G18","g":"G","x":5,"y":6.0},{"p":"c","id":"G18","g":"G","x":11,"y":5.9},{"p":"c","id":"G18","g":"G","x":24,"y":5.6},
{"p":"c","id":"G19","g":"G","x":3.5,"y":5.6},{"p":"c","id":"G19","g":"G","x":9.5,"y":5.45},{"p":"c","id":"G19","g":"G","x":20,"y":5.21},
{"p":"c","id":"G20","g":"G","x":6.5,"y":5.85},{"p":"c","id":"G20","g":"G","x":13,"y":5.7},{"p":"c","id":"G20","g":"G","x":27,"y":5.45},
{"p":"c","id":"G21","g":"G","x":4,"y":5.92},{"p":"c","id":"G21","g":"G","x":8,"y":5.85},{"p":"c","id":"G21","g":"G","x":31,"y":5.5},
{"p":"c","id":"G22","g":"G","x":5.5,"y":6.15},{"p":"c","id":"G22","g":"G","x":11.5,"y":6.0},{"p":"c","id":"G22","g":"G","x":23,"y":5.62},
{"p":"c","id":"G23","g":"G","x":8,"y":6.25},{"p":"c","id":"G23","g":"G","x":13,"y":6.05},{"p":"c","id":"G23","g":"G","x":25,"y":5.75},
{"p":"c","id":"G24","g":"G","x":6,"y":5.55},{"p":"c","id":"G24","g":"G","x":11,"y":5.45},{"p":"c","id":"G24","g":"G","x":30,"y":5.32},
{"p":"c","id":"G25","g":"G","x":7,"y":6.15},{"p":"c","id":"G25","g":"G","x":20.5,"y":6.17},{"p":"c","id":"G25","g":"G","x":30,"y":5.95},
{"p":"c","id":"G26","g":"G","x":10,"y":5.65},{"p":"c","id":"G26","g":"G","x":16,"y":5.55},{"p":"c","id":"G26","g":"G","x":28,"y":5.36},
{"p":"c","id":"G27","g":"G","x":5,"y":5.82},{"p":"c","id":"G27","g":"G","x":10,"y":5.72},{"p":"c","id":"G27","g":"G","x":26,"y":5.4},
{"p":"c","id":"G28","g":"G","x":3,"y":5.98},{"p":"c","id":"G28","g":"G","x":8,"y":5.9},{"p":"c","id":"G28","g":"G","x":24,"y":5.5},
{"p":"c","id":"G29","g":"G","x":7.5,"y":5.95},{"p":"c","id":"G29","g":"G","x":14,"y":5.75},{"p":"c","id":"G29","g":"G","x":33,"y":5.32},
{"p":"c","id":"G30","g":"G","x":6,"y":5.7},{"p":"c","id":"G30","g":"G","x":12,"y":5.6},{"p":"c","id":"G30","g":"G","x":28,"y":5.22},
{"p":"c","id":"X1","g":"G","x":4,"y":6.0},{"p":"c","id":"X1","g":"G","x":9,"y":5.9},{"p":"c","id":"X1","g":"G","x":24,"y":5.55},
{"p":"c","id":"X2","g":"G","x":5,"y":5.85},{"p":"c","id":"X2","g":"G","x":11,"y":5.75},{"p":"c","id":"X2","g":"G","x":27,"y":5.4},
{"p":"c","id":"X3","g":"B","x":6,"y":6.1},{"p":"c","id":"X3","g":"B","x":12,"y":5.95},{"p":"c","id":"X3","g":"B","x":30,"y":5.5},
{"p":"c","id":"X4","g":"G","x":7,"y":6.0},{"p":"c","id":"X4","g":"G","x":13,"y":5.85},{"p":"c","id":"X4","g":"G","x":25,"y":5.5},
{"p":"c","id":"X5","g":"G","x":3.5,"y":5.9},{"p":"c","id":"X5","g":"G","x":8,"y":5.85},{"p":"c","id":"X5","g":"G","x":22,"y":5.45},
{"p":"c","id":"X6","g":"B","x":5,"y":5.8},{"p":"c","id":"X6","g":"B","x":10,"y":5.7},{"p":"c","id":"X6","g":"B","x":28,"y":5.35},
{"p":"c","id":"X7","g":"G","x":6,"y":6.05},{"p":"c","id":"X7","g":"G","x":12,"y":5.9},{"p":"c","id":"X7","g":"G","x":31,"y":5.45},
{"p":"c","id":"X8","g":"G","x":8,"y":6.1},{"p":"c","id":"X8","g":"G","x":14,"y":5.95},{"p":"c","id":"X8","g":"G","x":32,"y":5.55},
{"p":"c","id":"X9","g":"R","x":6,"y":6.1},{"p":"c","id":"X9","g":"R","x":12,"y":5.95},{"p":"c","id":"X9","g":"R","x":25,"y":5.6},
{"p":"c","id":"X10","g":"G","x":4.5,"y":5.7},{"p":"c","id":"X10","g":"G","x":9.5,"y":5.6},{"p":"c","id":"X10","g":"G","x":26,"y":5.3},
{"p":"c","id":"X11","g":"B","x":7,"y":5.8},{"p":"c","id":"X11","g":"B","x":13,"y":5.65},{"p":"c","id":"X11","g":"B","x":29,"y":5.35},
{"p":"c","id":"X12","g":"G","x":5,"y":6.05},{"p":"c","id":"X12","g":"G","x":10,"y":5.95},{"p":"c","id":"X12","g":"G","x":30,"y":5.5},
{"p":"c","id":"X13","g":"G","x":9,"y":6.05},{"p":"c","id":"X13","g":"G","x":15,"y":5.9},{"p":"c","id":"X13","g":"G","x":26,"y":5.65},
{"p":"c","id":"X14","g":"B","x":6,"y":5.75},{"p":"c","id":"X14","g":"B","x":12,"y":5.6},{"p":"c","id":"X14","g":"B","x":24,"y":5.4},
{"p":"c","id":"X15","g":"G","x":5.5,"y":5.95},{"p":"c","id":"X15","g":"G","x":11,"y":5.85},{"p":"c","id":"X15","g":"G","x":28,"y":5.48},
{"p":"c","id":"X16","g":"G","x":7,"y":5.85},{"p":"c","id":"X16","g":"G","x":12,"y":5.72},{"p":"c","id":"X16","g":"G","x":22,"y":5.5},
{"p":"c","id":"X17","g":"G","x":4,"y":5.85},{"p":"c","id":"X17","g":"G","x":9,"y":5.78},{"p":"c","id":"X17","g":"G","x":25,"y":5.45},
{"p":"c","id":"X18","g":"B","x":6,"y":6.2},{"p":"c","id":"X18","g":"B","x":13,"y":6.0},{"p":"c","id":"X18","g":"B","x":31,"y":5.5},
{"p":"c","id":"X19","g":"G","x":10,"y":5.9},{"p":"c","id":"X19","g":"G","x":15,"y":5.78},{"p":"c","id":"X19","g":"G","x":27,"y":5.5},
{"p":"c","id":"X20","g":"G","x":5,"y":5.78},{"p":"c","id":"X20","g":"G","x":11,"y":5.65},{"p":"c","id":"X20","g":"G","x":20,"y":5.48},
{"p":"c","id":"X21","g":"R","x":7,"y":6.1},{"p":"c","id":"X21","g":"R","x":13,"y":5.9},{"p":"c","id":"X21","g":"R","x":24,"y":5.7},
{"p":"c","id":"X22","g":"G","x":6,"y":5.65},{"p":"c","id":"X22","g":"G","x":12,"y":5.55},{"p":"c","id":"X22","g":"G","x":33,"y":5.3},
{"p":"c","id":"X23","g":"B","x":8,"y":6.05},{"p":"c","id":"X23","g":"B","x":13,"y":5.95},{"p":"c","id":"X23","g":"B","x":26,"y":5.6},
{"p":"c","id":"X24","g":"G","x":4,"y":6.1},{"p":"c","id":"X24","g":"G","x":10,"y":5.98},{"p":"c","id":"X24","g":"G","x":29,"y":5.6},
{"p":"c","id":"X25","g":"G","x":6,"y":5.95},{"p":"c","id":"X25","g":"G","x":12,"y":5.8},{"p":"c","id":"X25","g":"G","x":29,"y":5.5},
{"p":"c","id":"X26","g":"B","x":5,"y":6.0},{"p":"c","id":"X26","g":"B","x":11,"y":5.85},{"p":"c","id":"X26","g":"B","x":23,"y":5.5},
{"p":"c","id":"X27","g":"G","x":7,"y":5.9},{"p":"c","id":"X27","g":"G","x":12,"y":5.78},{"p":"c","id":"X27","g":"G","x":26,"y":5.5},
{"p":"c","id":"X28","g":"G","x":9,"y":5.8},{"p":"c","id":"X28","g":"G","x":14,"y":5.68},{"p":"c","id":"X28","g":"G","x":30,"y":5.42},
{"p":"c","id":"X29","g":"B","x":3.5,"y":5.88},{"p":"c","id":"X29","g":"B","x":9,"y":5.75},{"p":"c","id":"X29","g":"B","x":33,"y":5.45},
{"p":"c","id":"X30","g":"G","x":6,"y":5.82},{"p":"c","id":"X30","g":"G","x":11.5,"y":5.7},{"p":"c","id":"X30","g":"G","x":22,"y":5.42},
{"p":"c","id":"X31","g":"G","x":8,"y":5.95},{"p":"c","id":"X31","g":"G","x":16,"y":5.8},{"p":"c","id":"X31","g":"G","x":31,"y":5.4},
{"p":"c","id":"X32","g":"B","x":6,"y":5.9},{"p":"c","id":"X32","g":"B","x":12,"y":5.75},{"p":"c","id":"X32","g":"B","x":27,"y":5.45},
{"p":"c","id":"X33","g":"G","x":5,"y":6.12},{"p":"c","id":"X33","g":"G","x":10,"y":6.0},{"p":"c","id":"X33","g":"G","x":24,"y":5.58},
{"p":"c","id":"X34","g":"G","x":11,"y":6.0},{"p":"c","id":"X34","g":"G","x":17,"y":5.85},{"p":"c","id":"X34","g":"G","x":30,"y":5.6},
{"p":"c","id":"X35","g":"R","x":5.5,"y":6.0},{"p":"c","id":"X35","g":"R","x":12,"y":5.85},{"p":"c","id":"X35","g":"R","x":30.5,"y":5.6}
],
"m": [
{"p":"a","g":"R","x":6.1,"y":740},{"p":"a","g":"R","x":12.3,"y":890},{"p":"a","g":"R","x":24.2,"y":1128},
{"p":"a","g":"G","x":6.3,"y":730},{"p":"a","g":"G","x":12.6,"y":870},{"p":"a","g":"G","x":24.2,"y":1041},
{"p":"a","g":"B","x":6.1,"y":719},{"p":"a","g":"B","x":12.9,"y":859},{"p":"a","g":"B","x":24.2,"y":1031},
{"p":"b","g":"R","x":6.3,"y":53},{"p":"b","g":"R","x":12,"y":60.6},{"p":"b","g":"R","x":18,"y":66.8},{"p":"b","g":"R","x":24.3,"y":72.2},
{"p":"b","g":"G","x":6.3,"y":52.5},{"p":"b","g":"G","x":12,"y":58.4},{"p":"b","g":"G","x":24.3,"y":68.5},
{"p":"b","g":"B","x":6.3,"y":51.7},{"p":"b","g":"B","x":12,"y":56.8},{"p":"b","g":"B","x":24.3,"y":67.1},
{"p":"c","g":"R","x":6,"y":6.06},{"p":"c","g":"R","x":24.2,"y":5.58},
{"p":"c","g":"G","x":6,"y":5.96},{"p":"c","g":"G","x":24.2,"y":5.56},
{"p":"c","g":"B","x":6,"y":5.98},{"p":"c","g":"B","x":24.2,"y":5.535}
]
},
"hconcat": [
{
  "width": 282, "height": 293,
  "title": {"text": "a", "dx": -64, "offset": -6},
  "layer": [
    {"data": {"name": "t"}, "transform": [{"filter": "datum.p === 'a'"}],
     "mark": {"type": "line", "strokeWidth": 0.7, "opacity": 0.45},
     "encoding": {
       "x": {"field": "x", "type": "quantitative", "scale": {"domain": [0, 50], "nice": false}, "axis": {"values": [0,5,10,15,20,25,30,35,40,45,50], "tickCount": 40, "labelOverlap": false, "title": "Corrected age (months)", "titlePadding": 11}},
       "y": {"field": "y", "type": "quantitative", "scale": {"domain": [0, 500, 900, 1100, 1400], "range": [293, 260.4, 130.2, 97.7, 0], "nice": false, "zero": false}, "axis": {"values": [0,500,600,700,800,900,1100,1200,1300,1400], "tickCount": 40, "labelOverlap": false, "format": ",d", "title": "Total brain volume (mm²)", "titlePadding": 9}},
       "detail": {"field": "id"},
       "color": {"field": "g", "type": "nominal", "scale": {"domain": ["R","G","B"], "range": ["#d8262b", "#2e9e46", "#3a62c8"]},
         "legend": {"orient": "none", "legendX": -64, "legendY": 364, "direction": "horizontal", "columns": 3, "title": null, "symbolType": "stroke", "symbolStrokeWidth": 2.5, "symbolSize": 130, "symbolOpacity": 1, "symbolOffset": 13, "labelFont": "Lato", "labelFontSize": 15.5, "labelColor": "#222222", "labelLimit": 400, "labelOffset": 6, "columnPadding": 40, "padding": 12, "strokeColor": "#999999", "fillColor": "#ffffff",
           "encode": {"labels": {"update": {"lineHeight": {"value": 16}}}},
           "labelExpr": "datum.value === 'R' ? ['Children with ASD with a sibling', 'with ASD'] : datum.value === 'G' ? ['Children with a sibling with ASD but', 'no diagnosis of ASD'] : ['Children with no sibling with ASD and', 'no diagnosis of ASD']"}}
     }},
    {"data": {"name": "t"}, "transform": [{"filter": "datum.p === 'a'"}],
     "mark": {"type": "point", "filled": true, "size": 8, "opacity": 0.6},
     "encoding": {"x": {"field": "x", "type": "quantitative"}, "y": {"field": "y", "type": "quantitative"}, "color": {"field": "g", "type": "nominal"}}},
    {"data": {"name": "m"}, "transform": [{"filter": "datum.p === 'a'"}],
     "mark": {"type": "line", "strokeWidth": 2.6},
     "encoding": {"x": {"field": "x", "type": "quantitative"}, "y": {"field": "y", "type": "quantitative"}, "detail": {"field": "g"},
       "stroke": {"condition": [{"test": "datum.g === 'R'", "value": "#e3241b"}, {"test": "datum.g === 'G'", "value": "#12873a"}], "value": "#233fa8"}}},
    {"data": {"values": [{}]},
     "mark": {"type": "text", "text": "//", "fontSize": 19, "angle": 25, "font": "Lato", "color": "#333333"},
     "encoding": {"x": {"datum": 0}, "y": {"datum": 250}}}
  ]
},
{
 "bounds": "flush",
 "spacing": 109,
 "hconcat": [
 {
  "width": 282, "height": 295,
  "title": {"text": "b", "dx": -50, "offset": -8},
  "layer": [
    {"data": {"name": "t"}, "transform": [{"filter": "datum.p === 'b'"}],
     "mark": {"type": "line", "strokeWidth": 0.7, "opacity": 0.45},
     "encoding": {
       "x": {"field": "x", "type": "quantitative", "scale": {"domain": [0, 50], "nice": false}, "axis": {"values": [0,5,10,15,20,25,30,35,40,45,50], "tickCount": 40, "labelOverlap": false, "title": "Corrected age (months)", "titlePadding": 11}},
       "y": {"field": "y", "type": "quantitative", "scale": {"domain": [0, 40, 90], "range": [295, 246, 2], "nice": false, "zero": false}, "axis": {"values": [0,40,50,60,70,80,90], "tickCount": 40, "labelOverlap": false, "title": "Total surface area (mm²)", "titlePadding": 7}},
       "detail": {"field": "id"},
       "color": {"field": "g", "type": "nominal", "legend": null}
     }},
    {"data": {"name": "t"}, "transform": [{"filter": "datum.p === 'b'"}],
     "mark": {"type": "point", "filled": true, "size": 8, "opacity": 0.6},
     "encoding": {"x": {"field": "x", "type": "quantitative"}, "y": {"field": "y", "type": "quantitative"}, "color": {"field": "g", "type": "nominal", "legend": null}}},
    {"data": {"name": "m"}, "transform": [{"filter": "datum.p === 'b'"}],
     "mark": {"type": "line", "strokeWidth": 2.6},
     "encoding": {"x": {"field": "x", "type": "quantitative"}, "y": {"field": "y", "type": "quantitative"}, "detail": {"field": "g"},
       "stroke": {"condition": [{"test": "datum.g === 'R'", "value": "#e3241b"}, {"test": "datum.g === 'G'", "value": "#12873a"}], "value": "#233fa8"}}},
    {"data": {"values": [{}]},
     "mark": {"type": "text", "text": "//", "fontSize": 19, "angle": 25, "font": "Lato", "color": "#333333"},
     "encoding": {"x": {"datum": 0}, "y": {"datum": 20}}}
  ]
 },
 {
  "width": 281, "height": 299,
  "title": {"text": "c", "dx": -51, "offset": -3},
  "layer": [
    {"data": {"name": "t"}, "transform": [{"filter": "datum.p === 'c'"}],
     "mark": {"type": "line", "strokeWidth": 0.7, "opacity": 0.45},
     "encoding": {
       "x": {"field": "x", "type": "quantitative", "scale": {"domain": [0, 50], "nice": false}, "axis": {"values": [0,5,10,15,20,25,30,35,40,45,50], "tickCount": 40, "labelOverlap": false, "title": "Corrected age (months)", "titlePadding": 11}},
       "y": {"field": "y", "type": "quantitative", "scale": {"domain": [0, 5.1, 6.7], "range": [299, 282.2, 7], "nice": false, "zero": false}, "axis": {"values": [0,5.1,5.2,5.3,5.4,5.5,5.6,5.7,5.8,5.9,6.0,6.1,6.2,6.3,6.4,6.5,6.6,6.7], "tickCount": 40, "labelOverlap": false, "labelExpr": "datum.value === 0 ? '0' : format(datum.value, '.1f')", "title": "Total cortical thickness (mm)", "titlePadding": 7}},
       "detail": {"field": "id"},
       "color": {"field": "g", "type": "nominal", "legend": null}
     }},
    {"data": {"name": "t"}, "transform": [{"filter": "datum.p === 'c'"}],
     "mark": {"type": "point", "filled": true, "size": 8, "opacity": 0.6},
     "encoding": {"x": {"field": "x", "type": "quantitative"}, "y": {"field": "y", "type": "quantitative"}, "color": {"field": "g", "type": "nominal", "legend": null}}},
    {"data": {"name": "m"}, "transform": [{"filter": "datum.p === 'c'"}],
     "mark": {"type": "line", "strokeWidth": 2.6},
     "encoding": {"x": {"field": "x", "type": "quantitative"}, "y": {"field": "y", "type": "quantitative"}, "detail": {"field": "g"},
       "stroke": {"condition": [{"test": "datum.g === 'R'", "value": "#e3241b"}, {"test": "datum.g === 'G'", "value": "#12873a"}], "value": "#233fa8"}}},
    {"data": {"values": [{}]},
     "mark": {"type": "text", "text": "//", "fontSize": 19, "angle": 25, "font": "Lato", "color": "#333333"},
     "encoding": {"x": {"datum": 0}, "y": {"datum": 2.55}}}
  ]
 }
 ]
}
]
}
